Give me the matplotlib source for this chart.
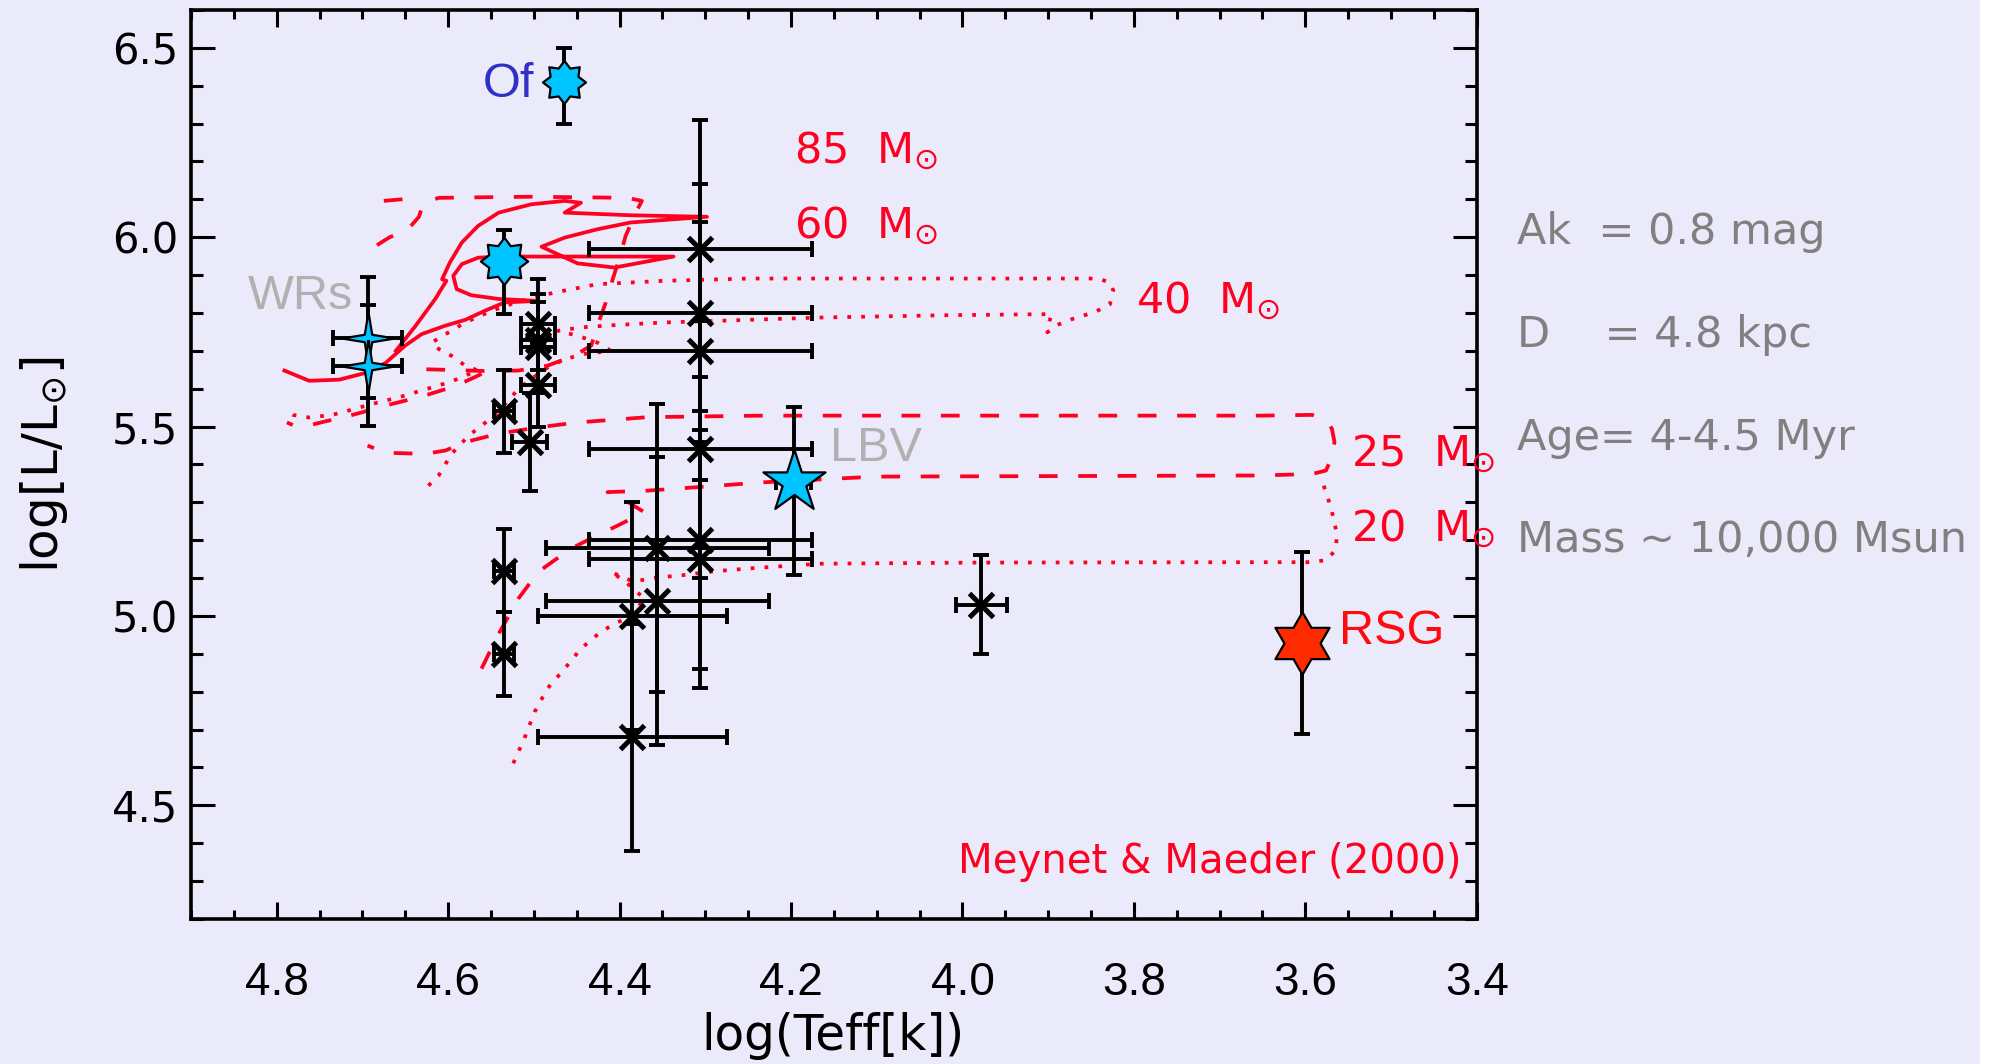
import numpy as np
import matplotlib.pyplot as plt
from matplotlib.ticker import MultipleLocator, FormatStrFormatter
from matplotlib.patches import Rectangle

BG = '#eaeafa'
RED = '#ff0020'
CYAN = '#00c4ff'
nan = np.nan

# cluster members without a spectral class (black crosses)
teff = [4.306, 4.306, 4.306, 4.306, 4.306, 4.306, 4.356, 4.356, 4.385, 4.385,
        4.495, 4.495, 4.495, 4.495, 4.505, 4.535, 4.535, 4.535, 3.978]
lum = [5.97, 5.80, 5.70, 5.44, 5.20, 5.15, 5.18, 5.04, 5.00, 4.68,
       5.77, 5.73, 5.71, 5.61, 5.46, 5.54, 5.12, 4.90, 5.03]
teff_err = [0.13, 0.13, 0.13, 0.13, 0.13, 0.13, 0.13, 0.13, 0.11, 0.11,
            0.02, 0.02, 0.02, 0.02, 0.02, 0.012, 0.012, 0.012, 0.03]
lum_err = [0.34, 0.34, 0.34, 0.34, 0.34, 0.34, 0.38, 0.38, 0.30, 0.30,
           0.12, 0.12, 0.12, 0.11, 0.13, 0.11, 0.11, 0.11, 0.13]

# classified stars
of_teff, of_lum = [4.465, 4.535], [6.41, 5.938]
of_lum_lo, of_lum_hi = [0.11, 0.14], [0.09, 0.08]
wr_teff, wr_lum = [4.694, 4.694], [5.735, 5.661]
wr_teff_err, wr_lum_err = [0.04, 0.04], [0.16, 0.16]
lbv_teff, lbv_lum = [4.197], [5.353]
lbv_lum_lo, lbv_lum_hi = [0.244], [0.198]
lbv_teff_err = [0.02]
rsg_teff, rsg_lum = [3.604], [4.929]
rsg_lum_err = [0.24]

# Meynet & Maeder (2000) rotating tracks, NaN splits separate pieces
t85_teff = [4.675, 4.650, 4.631, nan,
            4.683, 4.669, 4.646, 4.634, 4.629, 4.611, 4.580, 4.503, 4.426, 4.391,
            4.374, 4.381, 4.393, 4.400, 4.408, 4.416, 4.426, 4.433, 4.453, 4.484,
            4.518, 4.561, 4.603, 4.636, nan,
            4.561, 4.580, 4.603, 4.627, 4.658, 4.681, 4.700, 4.723, 4.743, 4.766,
            4.781, 4.788]
t85_lum = [6.096, 6.101, 6.104, nan,
           5.979, 5.999, 6.023, 6.054, 6.091, 6.104, 6.105, 6.107, 6.105, 6.104,
           6.096, 6.065, 6.003, 5.946, 5.889, 5.828, 5.766, 5.714, 5.687, 5.661,
           5.648, 5.647, 5.650, 5.652, nan,
           5.639, 5.619, 5.599, 5.582, 5.564, 5.551, 5.538, 5.524, 5.514, 5.501,
           5.504, 5.511]

t60_teff = [4.791, 4.762, 4.727, 4.696, 4.673, 4.650, 4.631, 4.604, 4.580, 4.557,
            4.534, 4.495, 4.541, 4.573, 4.590, 4.594, 4.584, 4.565, 4.541, 4.337,
            4.406, 4.449, 4.491, 4.464, 4.426, 4.387, 4.298, 4.387, 4.464, 4.445,
            4.464, 4.503, 4.541, 4.565, 4.584, 4.598, 4.607, 4.602, 4.615, 4.638,
            4.661]
t60_lum = [5.648, 5.621, 5.624, 5.642, 5.668, 5.714, 5.744, 5.766, 5.782, 5.806,
           5.828, 5.832, 5.837, 5.847, 5.863, 5.898, 5.929, 5.946, 5.949, 5.949,
           5.920, 5.931, 5.975, 5.999, 6.021, 6.039, 6.054, 6.058, 6.065, 6.091,
           6.096, 6.087, 6.065, 6.030, 5.986, 5.933, 5.889, 5.885, 5.837, 5.766,
           5.700]

t40_teff = [4.623, 4.611, 4.596, 4.576, 4.546, 4.518, 4.503, 4.484, 4.464, 4.441,
            4.410, 4.426, 4.449, 4.472, 4.445, 4.406, 4.348, 4.248, 4.166, 4.023,
            3.896, 3.899, 3.901, 3.890, 3.872, 3.845, 3.828, 3.824, 3.828, 3.841,
            4.248, 4.348, 4.426, 4.476, 4.518, 4.549, 4.580, 4.603, 4.619, 4.611,
            4.596, 4.580, 4.565, 4.580, 4.596, 4.627, 4.658, 4.685, 4.712, 4.735,
            4.762, 4.781, 4.789]
t40_lum = [5.344, 5.371, 5.428, 5.476, 5.529, 5.599, 5.626, 5.656, 5.678, 5.692,
           5.700, 5.722, 5.740, 5.753, 5.762, 5.768, 5.775, 5.782, 5.788, 5.794,
           5.797, 5.775, 5.749, 5.768, 5.784, 5.803, 5.823, 5.859, 5.880, 5.891,
           5.891, 5.885, 5.876, 5.854, 5.830, 5.806, 5.775, 5.744, 5.722, 5.705,
           5.687, 5.661, 5.648, 5.635, 5.619, 5.598, 5.577, 5.562, 5.545, 5.531,
           5.524, 5.531, 5.545]

t25_teff = [4.561, 4.542, 4.518, 4.495, 4.476, 4.453, 4.426, 4.402, 4.371, 4.387,
            4.402, 4.414, 4.367, 4.310, 4.232, 4.101, 3.652, 3.592, 3.576, 3.569,
            3.566, 3.569, 3.574, 3.592, 3.652, 4.232, 4.367, 4.449, 4.495, 4.542,
            4.580, 4.603, 4.627, 4.673, 4.694]
t25_lum = [4.861, 4.949, 5.046, 5.116, 5.147, 5.182, 5.213, 5.239, 5.274, 5.296,
           5.320, 5.327, 5.331, 5.340, 5.353, 5.368, 5.371, 5.375, 5.384, 5.419,
           5.459, 5.494, 5.513, 5.531, 5.529, 5.529, 5.525, 5.511, 5.498, 5.481,
           5.459, 5.437, 5.428, 5.431, 5.450]

t20_teff = [4.524, 4.511, 4.499, 4.484, 4.464, 4.445, 4.422, 4.402, 4.387, 4.371,
            4.395, 4.410, 4.383, 4.364, 4.329, 4.290, 4.240, 4.166, 3.984, 3.652,
            3.598, 3.576, 3.565, 3.563, 3.567, 3.571, 3.576, 3.582]
t20_lum = [4.611, 4.677, 4.747, 4.809, 4.861, 4.914, 4.958, 4.984, 4.997, 5.046,
           5.094, 5.116, 5.090, 5.100, 5.107, 5.118, 5.127, 5.138, 5.141, 5.142,
           5.142, 5.147, 5.173, 5.213, 5.257, 5.292, 5.327, 5.367]

track_labels = ['85', '60', '40', '25', '20']
label_teff = [4.196, 4.196, 3.797, 3.547, 3.547]
label_lum = [6.197, 5.999, 5.800, 5.396, 5.198]

info_lines = ['Ak  = 0.8 mag', 'D    = 4.8 kpc', 'Age= 4-4.5 Myr', 'Mass ~ 10,000 Msun']
info_y = [0.771, 0.674, 0.577, 0.4815]


def star_verts(npts, inner):
    # closed star outline with a point facing up
    k = np.arange(2 * npts)
    ang = np.pi / 2 + k * np.pi / npts
    r = np.where(k % 2 == 0, 1.0, inner)
    v = np.column_stack([r * np.cos(ang), r * np.sin(ang)])
    return np.vstack([v, v[:1]])


fig = plt.figure(figsize=(19.93, 10.64), dpi=100, facecolor=BG)
ax = fig.add_axes([0.0958, 0.1363, 0.6452, 0.8543], facecolor=BG)

lw = 2.7
dash = (0, (5, 5.5))
dot = (0, (1, 2.7))
ax.plot(t85_teff, t85_lum, color=RED, lw=lw, ls=dash, zorder=3)
ax.plot(t60_teff, t60_lum, color=RED, lw=lw, ls='-', zorder=3)
ax.plot(t40_teff, t40_lum, color=RED, lw=lw, ls=dot, zorder=3)
ax.plot(t25_teff, t25_lum, color=RED, lw=lw, ls=dash, zorder=3)
ax.plot(t20_teff, t20_lum, color=RED, lw=lw, ls=dot, zorder=3)

eb = dict(fmt='none', ecolor='k', elinewidth=2.8, capsize=6, capthick=2.8, zorder=4)
ax.errorbar(teff, lum, xerr=teff_err, yerr=lum_err, **eb)
ax.plot(teff, lum, 'x', color='k', ms=17, mew=3.6, zorder=5)

ax.errorbar(of_teff, of_lum, yerr=[of_lum_lo, of_lum_hi], **eb)
ax.errorbar(wr_teff, wr_lum, xerr=wr_teff_err, yerr=wr_lum_err, **eb)
ax.errorbar(lbv_teff, lbv_lum, xerr=lbv_teff_err, yerr=[lbv_lum_lo, lbv_lum_hi], **eb)
ax.errorbar(rsg_teff, rsg_lum, yerr=rsg_lum_err, **eb)

mk = dict(ls='none', markeredgecolor='k', markeredgewidth=1.6, zorder=6)
ax.plot(of_teff[:1], of_lum[:1], marker=star_verts(8, 0.7), ms=31, mfc=CYAN, **mk)
ax.plot(of_teff[1:], of_lum[1:], marker=star_verts(8, 0.7), ms=34, mfc=CYAN, **mk)
ax.plot(wr_teff, wr_lum, marker=star_verts(4, 0.2), ms=38, mfc=CYAN, **mk)
ax.plot(lbv_teff, lbv_lum, marker=star_verts(5, 0.382), ms=47, mfc=CYAN, **mk)
ax.plot(rsg_teff, rsg_lum, marker=star_verts(6, 0.577), ms=45, mfc='#ff2a00', **mk)

for name, x, y in zip(track_labels, label_teff, label_lum):
    ax.text(x, y, name + '  M$_{\\odot}$', color=RED, fontsize=31,
            ha='left', va='baseline', clip_on=False, zorder=7)

lab = dict(fontsize=35, family='Liberation Sans', ha='left', va='baseline', zorder=7)
ax.text(4.560, 6.369, 'Of', color='#3030c8', **lab)
ax.text(4.834, 5.810, 'WRs', color='#b0b0b0', **lab)
ax.text(4.154, 5.408, 'LBV', color='#b0b0b0', **lab)
ax.text(3.561, 4.927, 'RSG', color='#ff0a10', **lab)
ax.text(3.418, 4.322, 'Meynet & Maeder (2000)', color=RED, fontsize=29,
        ha='right', va='baseline')

ax.set_xlim(4.9, 3.4)
ax.set_ylim(4.2, 6.6)
ax.xaxis.set_major_locator(MultipleLocator(0.2))
ax.xaxis.set_minor_locator(MultipleLocator(0.05))
ax.yaxis.set_major_locator(MultipleLocator(0.5))
ax.yaxis.set_minor_locator(MultipleLocator(0.1))
ax.xaxis.set_major_formatter(FormatStrFormatter('%.1f'))
ax.yaxis.set_major_formatter(FormatStrFormatter('%.1f'))
ax.tick_params(which='both', direction='in', top=True, right=True, width=2.2, color='k')
ax.tick_params(axis='x', which='major', length=12, pad=30)
ax.tick_params(axis='x', which='minor', length=6.5)
ax.tick_params(axis='y', which='major', length=17, pad=9)
ax.tick_params(axis='y', which='minor', length=8.6)
for t in ax.get_xticklabels():
    t.set_fontfamily(['Liberation Sans Narrow', 'Liberation Sans'])
    t.set_fontsize(33)
for t in ax.get_yticklabels():
    t.set_fontfamily('DejaVu Sans')
    t.set_fontsize(30)
for s in ax.spines.values():
    s.set_linewidth(2.6)

fig.text(0.4177, 0.026, 'log(Teff[k])', fontsize=35, ha='center', va='center')
fig.text(0.022, 0.563, 'log[L/L$_{\\odot}$]', fontsize=36, rotation=90,
         ha='center', va='center')

for line, y in zip(info_lines, info_y):
    fig.text(0.761, y, line, color='#808080', fontsize=31, ha='left', va='baseline')

fig.patches.append(Rectangle((1980 / 1993, 0), 1, 1, transform=fig.transFigure,
                             color='white', zorder=-1))

fig.savefig('out.png', dpi=100, facecolor=BG)
